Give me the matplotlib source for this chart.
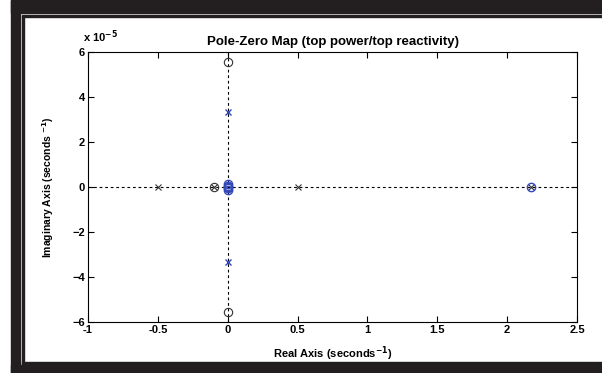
import matplotlib.pyplot as plt
from matplotlib.patches import Rectangle

plt.rcParams['font.family'] = ['Liberation Sans', 'DejaVu Sans']
plt.rcParams['font.weight'] = 'bold'
plt.rcParams['mathtext.default'] = 'bf'

# poles / zeros (imag in units of 1e-5)
black_pole_re = [-0.5, 0.5, -0.1, 2.17]
black_pole_im = [0.0, 0.0, 0.0, 0.0]
black_zero_re = [0.0, 0.0, -0.1]
black_zero_im = [5.55, -5.55, 0.0]

blue_pole_re = [0.0, 0.0]
blue_pole_im = [3.35, -3.35]
blue_zero_re = [0.0, 0.0, 0.0, 0.0, 0.0, 2.17]
blue_zero_im = [0.15, 0.05, 0.0, -0.05, -0.15, 0.0]

xticks = [-1, -0.5, 0, 0.5, 1, 1.5, 2, 2.5]
xticklabels = ['-1', '-0.5', '0', '0.5', '1', '1.5', '2', '2.5']
yticks = [-6, -4, -2, 0, 2, 4, 6]

blue = '#3348b8'

fig = plt.figure(figsize=(6.02, 3.73), dpi=100)
W, H = 602, 373

# outer frame (pixel coordinates)
fig.patches.append(Rectangle((11, H - 13), W - 11, 13, color='#231f20', transform=None))
fig.patches.append(Rectangle((11, 0), 9, H, color='#231f20', transform=None))
fig.patches.append(Rectangle((11, 0), W - 11, 8, color='#231f20', transform=None))
fig.patches.append(Rectangle((22, H - 16.5), W - 22, 1.5, color='#231f20', transform=None))
fig.patches.append(Rectangle((22, 9.3), 1.5, H - 25, color='#231f20', transform=None))
fig.patches.append(Rectangle((22, 9.3), W - 22, 1.3, color='#231f20', transform=None))

ax = fig.add_axes([88 / W, (H - 322) / H, (577 - 88) / W, (322 - 52) / H])

ax.axhline(0, color='k', lw=0.8, ls=(0, (2.5, 2.5)), zorder=1)
ax.axvline(0, color='k', lw=0.8, ls=(0, (2.5, 2.5)), zorder=1)

ax.plot(black_pole_re, black_pole_im, 'x', color='#333333', ms=5, mew=0.8, zorder=3)
ax.plot(black_zero_re, black_zero_im, 'o', mfc='none', mec='#333333', ms=6, mew=0.8, zorder=3)
ax.plot(blue_pole_re, blue_pole_im, 'x', color=blue, ms=5, mew=1.0, zorder=3)
ax.plot(blue_zero_re, blue_zero_im, 'o', mfc='none', mec=blue, ms=6, mew=1.0, zorder=3)

ax.set_xlim(-1, 2.5)
ax.set_ylim(-6, 6)
ax.set_xticks(xticks)
ax.set_xticklabels(xticklabels)
ax.set_yticks(yticks)
ax.tick_params(direction='in', top=True, right=True, labelsize=8, length=4, width=0.8, pad=2)
for s in ax.spines.values():
    s.set_linewidth(0.8)

ax.set_title('Pole-Zero Map (top power/top reactivity)', fontsize=9.5, fontweight='bold', pad=5)
ax.set_xlabel('Real Axis (seconds$^{-1}$)', fontsize=8, fontweight='bold', labelpad=7)
ax.set_ylabel('Imaginary Axis (seconds $^{-1}$)', fontsize=7.5, fontweight='bold', labelpad=12)
ax.text(-0.01, 1.025, 'x 10$^{-5}$', transform=ax.transAxes, fontsize=8, fontweight='bold',
        ha='left', va='bottom')

fig.savefig('out.png', dpi=100)
